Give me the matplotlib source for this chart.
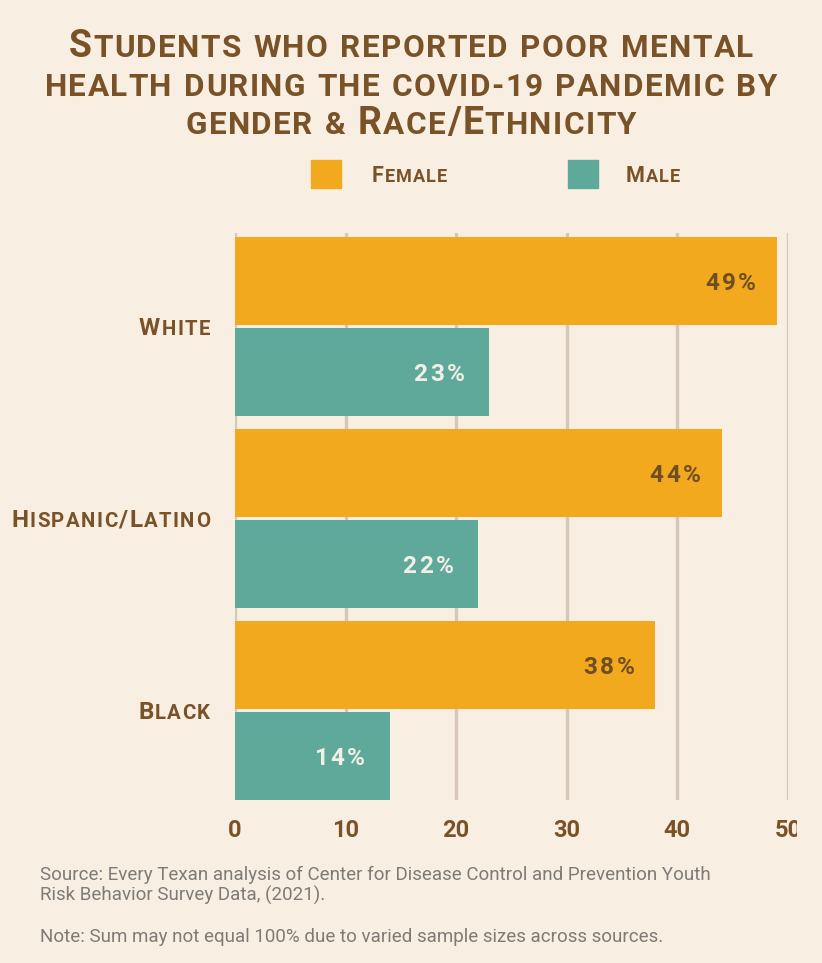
import matplotlib
matplotlib.use("Agg")
import matplotlib.pyplot as plt
from matplotlib.transforms import Bbox, TransformedBbox, IdentityTransform
import numpy as np

# ---- data ----
groups = ["White", "Hispanic/Latino", "Black"]
female = [49, 44, 38]
male = [23, 22, 14]
series_names = ["Female", "Male"]
x_ticks = [0, 10, 20, 30, 40, 50]

title_lines = ["Students who reported poor mental",
               "health during the covid-19 pandemic by",
               "gender & Race/Ethnicity"]
source_lines = ["Source: Every Texan analysis of Center for Disease Control and Prevention Youth",
                "Risk Behavior Survey Data, (2021)."]
note_line = "Note: Sum may not equal 100% due to varied sample sizes across sources."

# ---- style ----
BG = "#F8EFE2"
C_FEMALE = "#F2A91E"
C_MALE = "#5FA99B"
BROWN = "#7A5228"
GRID = "#D6C7B8"
GREY = "#7E7A76"
HEAD_FONT = ["Roboto", "DejaVu Sans"]
BODY_FONT = ["Roboto", "DejaVu Sans"]

W, H = 822, 963
fig = plt.figure(figsize=(W / 100, H / 100), dpi=100, facecolor=BG)
renderer = fig.canvas.get_renderer()


def _pieces(text, size, ratio):
    """Per-character (char, fontsize) list for small-caps rendering."""
    out = []
    for ch in text:
        big = ch.isupper() or ch == "/"
        out.append((ch.upper(), size if big else size * ratio))
    return out


def smallcaps(xpx, ypx, text, size, ha="left", ratio=0.8, color=BROWN,
              family=HEAD_FONT, weight="bold", spacing=0.0, zorder=5):
    """Draw small-caps text with its baseline at pixel (xpx, ypx) from the top-left."""
    pieces = []
    total = 0.0
    for ch, fs in _pieces(text, size, ratio):
        if ch == " ":
            w = fs * 0.30 * 100 / 72
        else:
            t = fig.text(0, 0, ch, fontsize=fs, family=family, weight=weight)
            w = t.get_window_extent(renderer).width
            t.remove()
        pieces.append((ch, fs, w))
        total += w + spacing
    total -= spacing
    if ha == "center":
        x0 = xpx - total / 2
    elif ha == "right":
        x0 = xpx - total
    else:
        x0 = xpx
    x = x0
    for ch, fs, w in pieces:
        if ch != " ":
            fig.text(x / W, 1 - ypx / H, ch, fontsize=fs, family=family,
                     weight=weight, color=color, ha="left", va="baseline",
                     zorder=zorder)
        x += w + spacing


# ---- axes ----
ax_left, ax_right = 235, 788
ax_top, ax_bot = 233, 800
ax = fig.add_axes([ax_left / W, 1 - ax_bot / H, (ax_right - ax_left) / W,
                   (ax_bot - ax_top) / H])
ax.set_facecolor(BG)

y = np.arange(len(groups))
bar_h = 0.46
off = 0.237
bf = ax.barh(y - off, female, height=bar_h, color=C_FEMALE, zorder=3)
bm = ax.barh(y + off, male, height=bar_h, color=C_MALE, zorder=3)

ax.set_xlim(0, 50)
ax.set_ylim(2.466, -0.487)
ax.set_xticks(x_ticks)
ax.set_yticks([])
for s in ax.spines.values():
    s.set_visible(False)
ax.grid(axis="x", color=GRID, linewidth=2.4, zorder=0)
ax.tick_params(axis="x", length=0, pad=14, labelsize=17, labelcolor=BROWN)
clip = TransformedBbox(Bbox([[0, 0], [797, H]]), IdentityTransform())
for lab in ax.get_xticklabels():
    lab.set_fontfamily(HEAD_FONT)
    lab.set_fontweight("bold")
    lab.set_clip_box(clip)
    lab.set_clip_on(True)

# value labels inside bar ends (letter-spaced)
for bars, vals, col, inset in [(bf, female, "#6E4E22", 21), (bm, male, "#F3EFE6", 25)]:
    for rect, v in zip(bars, vals):
        xp, yp = ax.transData.transform((v, rect.get_y() + rect.get_height() / 2))
        smallcaps(xp - inset, H - yp + 9, f"{v}%", 17.5, ha="right", ratio=1.0,
                  color=col, spacing=2.6)

# category labels
for yi, g in zip(y, groups):
    ypx = H - ax.transData.transform((0, yi))[1]
    smallcaps(210, ypx + 8, g, 17.5, ha="right", ratio=0.84, spacing=1.4)

# ---- title ----
for i, line in enumerate(title_lines):
    smallcaps(411, 57 + i * 38.5, line, 27, ha="center", ratio=0.84, spacing=1.4)

# ---- legend ----
for (name, col, sx, tx) in [(series_names[0], C_FEMALE, 311, 372),
                            (series_names[1], C_MALE, 568, 626)]:
    fig.patches.append(plt.Rectangle((sx / W, 1 - 188 / H), 30 / W, 28 / H,
                                     transform=fig.transFigure, color=col))
    smallcaps(tx, 182, name, 15.5, ha="left", ratio=0.84, spacing=1.0)

# ---- footnotes ----
for i, line in enumerate(source_lines):
    fig.text(40 / W, 1 - (880 + i * 21) / H, line, fontsize=13.5,
             family=BODY_FONT, color=GREY, ha="left", va="baseline")
fig.text(40 / W, 1 - 942 / H, note_line, fontsize=13.5, family=BODY_FONT,
         color=GREY, ha="left", va="baseline")

fig.savefig("out.png", dpi=100, facecolor=BG)
